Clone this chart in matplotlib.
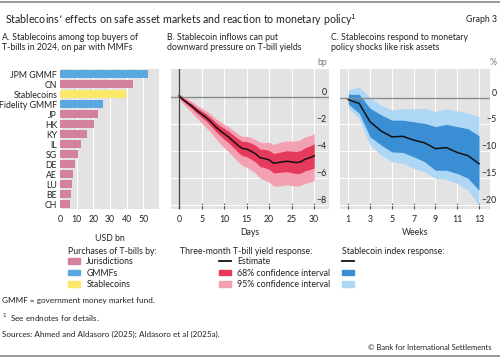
import matplotlib
matplotlib.use("Agg")
import matplotlib.pyplot as plt
from matplotlib.patches import Patch
from matplotlib.lines import Line2D

plt.rcParams['font.family'] = ['Lato', 'DejaVu Sans']

# ---------------- data ----------------
buyers = ["JPM GMMF", "CN", "Stablecoins", "Fidelity GMMF", "JP", "HK", "KY",
          "IL", "SG", "DE", "AE", "LU", "BE", "CH"]
buyer_type = ["GMMF", "Jur", "Stable", "GMMF", "Jur", "Jur", "Jur",
              "Jur", "Jur", "Jur", "Jur", "Jur", "Jur", "Jur"]
purchases = [52.8, 43.6, 39.6, 25.6, 22.6, 20.4, 16.0, 12.6, 11.0, 9.0, 7.6, 7.4, 6.4, 6.0]

days = list(range(31))
est_b = [0.1, -0.2, -0.45, -0.7, -1.0, -1.25, -1.5, -1.8, -2.15, -2.45, -2.7,
         -2.95, -3.25, -3.55, -3.8, -3.85, -4.0, -4.2, -4.5, -4.55, -4.65,
         -4.9, -4.85, -4.8, -4.75, -4.8, -4.85, -4.8, -4.6, -4.5, -4.35]
up68_b = [0.2, -0.08, -0.3, -0.52, -0.8, -1.02, -1.24, -1.5, -1.82, -2.09, -2.3,
          -2.52, -2.79, -3.05, -3.27, -3.29, -3.4, -3.58, -3.85, -3.87, -3.95,
          -4.18, -4.11, -4.04, -3.97, -4.0, -4.03, -3.96, -3.74, -3.62, -3.45]
lo68_b = [0.0, -0.32, -0.6, -0.88, -1.2, -1.48, -1.76, -2.1, -2.48, -2.81, -3.1,
          -3.38, -3.71, -4.05, -4.33, -4.41, -4.6, -4.82, -5.15, -5.23, -5.35,
          -5.62, -5.59, -5.56, -5.53, -5.6, -5.67, -5.64, -5.46, -5.38, -5.25]
up95_b = [0.3, 0.05, -0.15, -0.35, -0.6, -0.8, -1.0, -1.25, -1.55, -1.8, -2.0,
          -2.2, -2.45, -2.7, -2.9, -2.9, -3.0, -3.15, -3.35, -3.35, -3.35,
          -3.5, -3.4, -3.3, -3.25, -3.25, -3.25, -3.15, -2.95, -2.85, -2.7]
lo95_b = [-0.15, -0.5, -0.85, -1.2, -1.55, -1.9, -2.25, -2.6, -3.0, -3.4, -3.75,
          -4.05, -4.4, -4.75, -5.05, -5.2, -5.4, -5.65, -6.0, -6.15, -6.3,
          -6.6, -6.6, -6.55, -6.5, -6.55, -6.6, -6.55, -6.4, -6.3, -6.2]

weeks = list(range(1, 14))
est_c = [-0.4, -1.1, -4.5, -6.2, -7.3, -7.2, -7.9, -8.4, -9.5, -9.3, -10.2, -10.8, -12.3]
up68_c = [0.6, 0.6, -2.0, -3.2, -4.2, -4.2, -4.5, -4.8, -5.4, -5.0, -5.4, -5.8, -7.1]
lo68_c = [-1.2, -2.9, -7.3, -8.8, -10.1, -10.2, -11.0, -11.9, -13.5, -13.5, -14.1, -15.0, -17.2]
up95_c = [1.4, 2.0, -0.1, -1.4, -2.3, -2.1, -2.1, -2.0, -2.6, -2.1, -2.5, -2.9, -3.5]
lo95_c = [-1.9, -3.9, -8.8, -10.7, -11.9, -12.2, -13.2, -13.8, -15.0, -15.2, -16.0, -17.2, -20.0]

# ---------------- style ----------------
BG = "#e3e3e3"
TXT = "#222222"
FS = 6.3
col_type = {"Jur": "#d3819f", "GMMF": "#5ba7e0", "Stable": "#fbe868"}
C68B, C95B = "#e63a5c", "#f4a0b3"
C68C, C95C = "#3a8fd4", "#aed6f5"

W, H = 500, 357
fig = plt.figure(figsize=(W / 100, H / 100), dpi=100)

def fx(px):
    return px / W

def fy(py):
    return 1 - py / H

def box(l, t, r, b):
    return [fx(l), fy(b), fx(r) - fx(l), fy(t) - fy(b)]

# rules and titles
fig.add_artist(Line2D([0, 1], [fy(1.5), fy(1.5)], color="#888888", lw=1.2))
fig.add_artist(Line2D([0, 1], [fy(355.5), fy(355.5)], color="#888888", lw=1.2))
fig.text(fx(5), fy(20), "Stablecoins\u2019 effects on safe asset markets and reaction to monetary policy$^{1}$",
         fontsize=7.65, color=TXT, va="center", ha="left")
fig.text(fx(497), fy(20), "Graph 3", fontsize=FS, color=TXT, va="center", ha="right")

sub = [(2, "A. Stablecoins among top buyers of\nT-bills in 2024, on par with MMFs"),
       (167, "B. Stablecoin inflows can put\ndownward pressure on T-bill yields"),
       (331, "C. Stablecoins respond to monetary\npolicy shocks like risk assets")]
for x, s in sub:
    fig.text(fx(x), fy(32.5), s, fontsize=FS, color=TXT, va="top", ha="left", linespacing=1.15)

def style_axes(ax):
    ax.set_facecolor(BG)
    for sp in ax.spines.values():
        sp.set_visible(False)
    ax.tick_params(colors=TXT, labelsize=FS)
    ax.set_axisbelow(True)

# ---------------- Panel A ----------------
axA = fig.add_axes(box(60, 69, 159, 209))
style_axes(axA)
ypos = list(range(len(buyers)))
axA.barh(ypos, purchases, height=0.82, color=[col_type[t] for t in buyer_type], zorder=2)
axA.set_yticks(ypos)
axA.set_yticklabels(buyers)
axA.set_ylim(len(buyers) - 0.5, -0.5)
axA.set_xlim(0, 59.4)
axA.set_xticks([0, 10, 20, 30, 40, 50])
axA.grid(axis="x", color="white", lw=0.8)
axA.tick_params(axis="y", length=0, pad=2)
axA.tick_params(axis="x", length=0, pad=4.5)
axA.set_xlabel("USD bn", fontsize=FS, color=TXT, labelpad=7)

# ---------------- Panel B ----------------
axB = fig.add_axes(box(171, 69, 329, 209))
style_axes(axB)
axB.fill_between(days, lo95_b, up95_b, color=C95B, lw=0, zorder=2)
axB.fill_between(days, lo68_b, up68_b, color=C68B, lw=0, zorder=3)
axB.plot(days, est_b, color="#111111", lw=1.1, zorder=4)
axB.set_xlim(-1.78, 33.3)
axB.set_ylim(-8.3, 2.1)
axB.set_xticks([0, 5, 10, 15, 20, 25, 30])
axB.set_yticks([0, -2, -4, -6, -8])
axB.set_yticklabels(["0", "\u22122", "\u22124", "\u22126", "\u22128"])
axB.grid(color="white", lw=0.8)
axB.axhline(0, color="#8a8a8a", lw=1.0, zorder=3.5)
axB.axvline(0, color="#444444", lw=0.9, zorder=5)
axB.tick_params(axis="x", direction="in", length=4, width=0.8, color="#555555", pad=4.5)
axB.yaxis.tick_right()
axB.tick_params(axis="y", length=0, pad=-1.5)
for lab in axB.get_yticklabels():
    lab.set_horizontalalignment("right")
    lab.set_verticalalignment("bottom")
axB.set_xlabel("Days", fontsize=FS, color=TXT, labelpad=3)
axB.text(0.99, 1.015, "bp", transform=axB.transAxes, ha="right", va="bottom",
         fontsize=FS, color="#777777")

# ---------------- Panel C ----------------
axC = fig.add_axes(box(340, 69, 490, 209))
style_axes(axC)
axC.fill_between(weeks, lo95_c, up95_c, color=C95C, lw=0, zorder=2)
axC.fill_between(weeks, lo68_c, up68_c, color=C68C, lw=0, zorder=3)
axC.plot(weeks, est_c, color="#111111", lw=1.1, zorder=4)
axC.set_xlim(0.24, 14.01)
axC.set_ylim(-20.7, 5.3)
axC.set_xticks([1, 3, 5, 7, 9, 11, 13])
axC.set_yticks([0, -5, -10, -15, -20])
axC.set_yticklabels(["0", "\u22125", "\u221210", "\u221215", "\u221220"])
axC.grid(color="white", lw=0.8)
axC.axhline(0, color="#8a8a8a", lw=1.0, zorder=3.5)
axC.tick_params(axis="x", direction="in", length=4, width=0.8, color="#555555", pad=4.5)
axC.yaxis.tick_right()
axC.tick_params(axis="y", length=0, pad=5)
for lab in axC.get_yticklabels():
    lab.set_horizontalalignment("right")
    lab.set_verticalalignment("bottom")
axC.set_xlabel("Weeks", fontsize=FS, color=TXT, labelpad=3)
axC.text(1.045, 1.015, "%", transform=axC.transAxes, ha="right", va="bottom",
         fontsize=FS, color="#777777")

# ---------------- legends ----------------
leg_kw = dict(loc="upper left", frameon=False, fontsize=FS, handlelength=1.4,
              handleheight=0.65, handletextpad=0.7, labelspacing=0.3, borderaxespad=0,
              borderpad=0)
fig.text(fx(68), fy(252), "Purchases of T-bills by:", fontsize=FS, color=TXT, va="center")
hA = [Patch(color=col_type["Jur"]), Patch(color=col_type["GMMF"]), Patch(color=col_type["Stable"])]
fig.legend(hA, ["Jurisdictions", "GMMFs", "Stablecoins"], bbox_to_anchor=(fx(68), fy(257)),
           labelcolor=TXT, **leg_kw)

fig.text(fx(180), fy(252), "Three-month T-bill yield response:", fontsize=FS, color=TXT, va="center")
hB = [Line2D([], [], color="#111111", lw=1.3), Patch(color=C68B), Patch(color=C95B)]
fig.legend(hB, ["Estimate", "68% confidence interval", "95% confidence interval"],
           bbox_to_anchor=(fx(219), fy(257)), labelcolor=TXT, **leg_kw)

fig.text(fx(342), fy(252), "Stablecoin index response:", fontsize=FS, color=TXT, va="center")
hC = [Line2D([], [], color="#111111", lw=1.3), Patch(color=C68C), Patch(color=C95C)]
fig.legend(hC, ["", "", ""], bbox_to_anchor=(fx(342), fy(257)), **leg_kw)

# ---------------- footnotes ----------------
FN = 5.9
fig.text(fx(2), fy(301), "GMMF = government money market fund.", fontsize=FN, color=TXT, va="center")
fig.text(fx(2), fy(318), "$^{1}$  See endnotes for details.", fontsize=FN, color=TXT, va="center")
fig.text(fx(2), fy(334), "Sources: Ahmed and Aldasoro (2025); Aldasoro et al (2025a).", fontsize=FN,
         color=TXT, va="center")
fig.text(fx(491), fy(348), "\u00a9 Bank for International Settlements", fontsize=5.5, color=TXT,
         va="center", ha="right")

fig.savefig("out.png", dpi=100)
